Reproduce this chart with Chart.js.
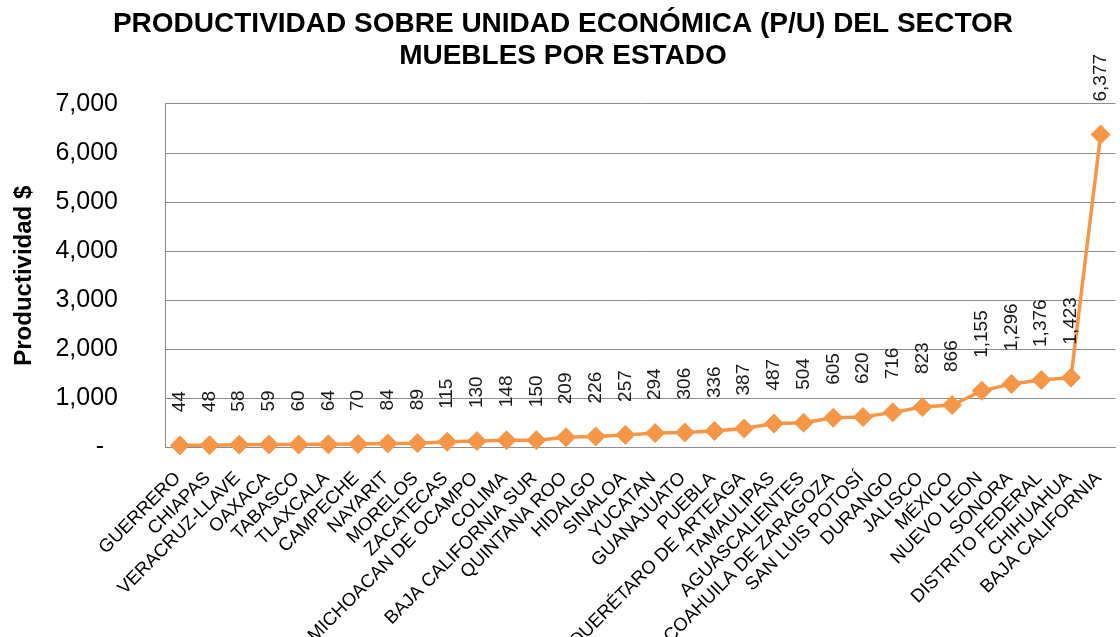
<!DOCTYPE html>
<html>
<head>
<meta charset="utf-8">
<script src="https://cdn.jsdelivr.net/npm/chart.js@4/dist/chart.umd.min.js"></script>
<style>
  html, body { margin: 0; padding: 0; background: #fff; overflow: hidden; }
  #wrap { width: 1120px; height: 637px; overflow: hidden; }
</style>
</head>
<body>
<div id="wrap"><canvas id="chart" width="1126" height="637"></canvas></div>
<script>
// estados, ordenados de menor a mayor productividad
const estados = [
  "GUERRERO", "CHIAPAS", "VERACRUZ-LLAVE", "OAXACA", "TABASCO", "TLAXCALA",
  "CAMPECHE", "NAYARIT", "MORELOS", "ZACATECAS", "MICHOACAN DE OCAMPO", "COLIMA",
  "BAJA CALIFORNIA SUR", "QUINTANA ROO", "HIDALGO", "SINALOA", "YUCATAN",
  "GUANAJUATO", "PUEBLA", "QUERÉTARO DE ARTEAGA", "TAMAULIPAS", "AGUASCALIENTES",
  "COAHUILA DE ZARAGOZA", "SAN LUIS POTOSÍ", "DURANGO", "JALISCO", "MÉXICO",
  "NUEVO LEON", "SONORA", "DISTRITO FEDERAL", "CHIHUAHUA", "BAJA CALIFORNIA"
];

// productividad por unidad económica ($)
const productividad = [
  44, 48, 58, 59, 60, 64, 70, 84, 89, 115, 130, 148, 150, 209, 226, 257, 294,
  306, 336, 387, 487, 504, 605, 620, 716, 823, 866, 1155, 1296, 1376, 1423, 6377
];

const yTicks = [0, 1000, 2000, 3000, 4000, 5000, 6000, 7000];
const titulo = ["PRODUCTIVIDAD SOBRE UNIDAD ECONÓMICA (P/U) DEL SECTOR", "MUEBLES POR ESTADO"];
const tituloY = "Productividad $";

const FONT = "'Liberation Sans', Arial, sans-serif";
const naranja = "#F79646";
const gris = "#8C8C8C";

function fmt(v) {
  return v.toLocaleString("en-US");
}

// etiquetas de datos verticales encima de cada punto
const etiquetas = {
  id: "etiquetas",
  afterDatasetsDraw(chart) {
    const ctx = chart.ctx;
    const meta = chart.getDatasetMeta(0);
    ctx.save();
    ctx.font = "19px " + FONT;
    ctx.fillStyle = "#1a1a1a";
    ctx.textAlign = "left";
    ctx.textBaseline = "middle";
    meta.data.forEach((pt, i) => {
      ctx.save();
      ctx.translate(pt.x, pt.y - 33);
      ctx.rotate(-Math.PI / 2);
      ctx.fillText(fmt(productividad[i]), 0, 0);
      ctx.restore();
    });
    ctx.restore();
  }
};

new Chart(document.getElementById("chart"), {
  type: "line",
  data: {
    labels: estados,
    datasets: [{
      data: productividad,
      borderColor: naranja,
      backgroundColor: naranja,
      borderWidth: 3.5,
      pointStyle: "rectRot",
      pointRadius: 9.5,
      pointBorderWidth: 1,
      pointBackgroundColor: naranja,
      pointBorderColor: naranja,
      tension: 0,
      clip: false
    }]
  },
  options: {
    responsive: false,
    animation: false,
    devicePixelRatio: 1,
    layout: { padding: 0 },
    plugins: {
      legend: { display: false },
      tooltip: { enabled: false },
      title: {
        display: true,
        text: titulo,
        color: "#000",
        font: { family: FONT, size: 28, weight: "bold", lineHeight: 1.16 },
        padding: { top: 8, bottom: 31 }
      }
    },
    scales: {
      x: {
        offset: true,
        grid: { display: false },
        border: { display: true, color: gris, width: 1 },
        ticks: {
          autoSkip: false,
          maxRotation: 45,
          minRotation: 45,
          color: "#000",
          padding: 12,
          labelOffset: -2,
          font: { family: FONT, size: 18.5 }
        },
        afterFit(scale) {
          scale.height = 189.5;
          scale.paddingLeft = 0;
          scale.paddingRight = 0;
        }
      },
      y: {
        min: 0,
        max: 7000,
        afterBuildTicks(scale) { scale.ticks = yTicks.map(v => ({ value: v })); },
        grid: { color: gris, lineWidth: 1, drawTicks: false },
        border: { display: true, color: gris, width: 1 },
        ticks: {
          color: "#000",
          padding: 47,
          font: { family: FONT, size: 25 },
          callback: v => (v === 0 ? "-  " : fmt(v))
        },
        title: {
          display: true,
          text: tituloY,
          color: "#000",
          font: { family: FONT, size: 24, weight: "bold" },
          padding: { top: 10, bottom: 0 }
        },
        afterFit(scale) { scale.width = 165; }
      }
    }
  },
  plugins: [etiquetas]
});
</script>
</body>
</html>
